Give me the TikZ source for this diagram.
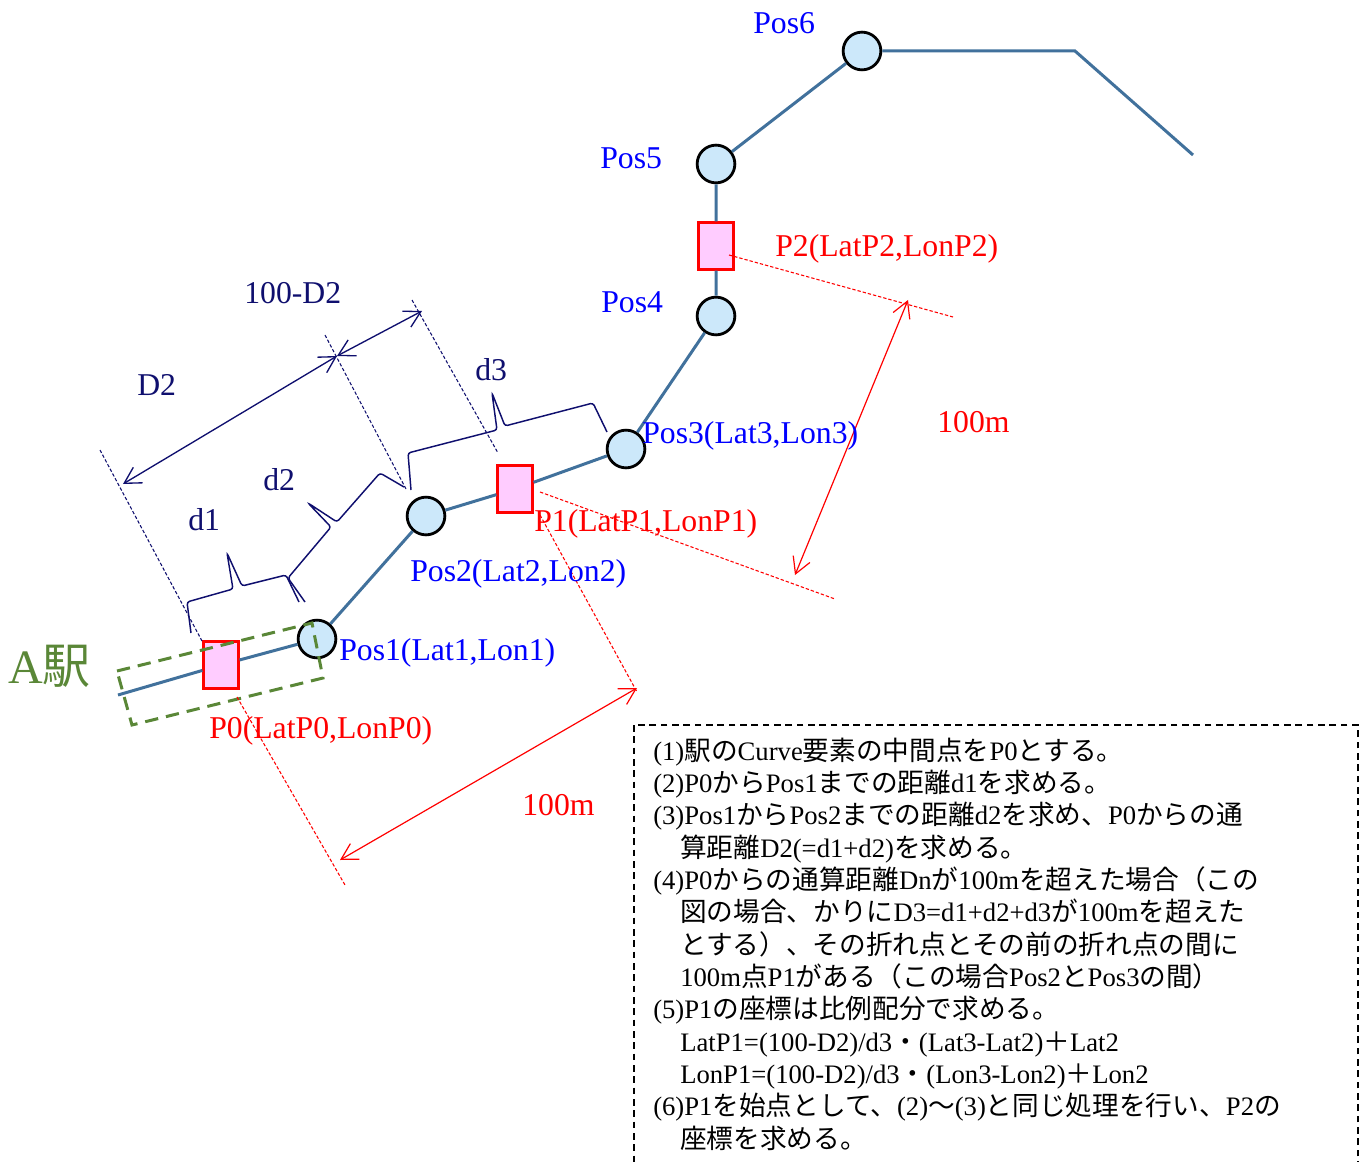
\documentclass[tikz,border=0pt]{standalone}
\usepackage{fontspec}
\setmainfont{Liberation Serif}
\newfontfamily\cjk{Noto Sans CJK JP}
\usetikzlibrary{arrows.meta}
\newcommand\J[1]{{\cjk #1}}
\definecolor{trackc}{RGB}{65,113,156}
\definecolor{nodefill}{RGB}{204,232,250}
\definecolor{pinkfill}{RGB}{255,204,255}
\definecolor{navyc}{RGB}{15,15,110}
\definecolor{stgreen}{RGB}{90,135,55}
\tikzset{
  trackline/.style={draw=trackc, line width=2.25pt},
  posc/.style={circle, draw=black, line width=2.1pt, fill=nodefill, minimum size=28.3pt, inner sep=0pt},
  prect/.style={rectangle, draw=red, line width=1.9pt, fill=pinkfill, minimum width=26pt, minimum height=35pt, inner sep=0pt},
  lbl/.style={inner sep=0pt, anchor=base west, font=\fontsize{23.8}{28}\selectfont},
  bluelbl/.style={lbl, text=blue},
  redlbl/.style={lbl, text=red},
  navylbl/.style={lbl, text=navyc},
  extline/.style={draw=navyc, line width=0.8pt, dash pattern=on 2.5pt off 1.5pt},
  dimarrow/.style={draw=navyc, line width=1pt, {Straight Barb[length=12pt,width=13.5pt]}-{Straight Barb[length=12pt,width=13.5pt]}},
  bracestyle/.style={draw=navyc, line width=1.1pt, rounded corners=2pt},
  redext/.style={draw=red, line width=0.8pt, dash pattern=on 2.5pt off 1.5pt},
  redarrow/.style={draw=red, line width=0.9pt, {Straight Barb[length=12pt,width=13.5pt]}-{Straight Barb[length=12pt,width=13.5pt]}},
  stationbox/.style={draw=stgreen, line width=2.25pt, dash pattern=on 10pt off 6pt},
  textline/.style={inner sep=0pt, anchor=base west, font=\fontsize{20}{24}\selectfont},
  notebox/.style={draw=black, line width=1.3pt, dash pattern=on 5pt off 3.5pt}
}
\begin{document}
\begin{tikzpicture}[x=0.75pt,y=-0.75pt]
\useasboundingbox (0,0) rectangle (1369,1162);
\clip (0,0) rectangle (1369,1162);
% track nodes
\coordinate (tstart) at (118,695);
\node[prect] (p0) at (221,665) {};
\node[posc] (pos1) at (317,639) {};
\node[posc] (pos2) at (426,516) {};
\node[prect] (p1) at (515,489) {};
\node[posc] (pos3) at (626,449) {};
\node[posc] (pos4) at (716,316) {};
\node[prect] (p2) at (716,246) {};
\node[posc] (pos5) at (716,164) {};
\node[posc] (pos6) at (862,51) {};
\coordinate (tbend) at (1075,51);
\coordinate (tend) at (1193,155);
\draw[trackline] (tstart) -- (p0) -- (pos1) -- (pos2) -- (p1) -- (pos3) -- (pos4) -- (p2) -- (pos5) -- (pos6) -- (tbend) -- (tend);
% station box
\draw[stationbox] (117,671) -- (312,623) -- (323,678) -- (132,725) -- cycle;
\node[lbl, text=stgreen, font=\fontsize{36}{40}\selectfont] (sta) at (8,683) {A\J{駅}};
% navy extension lines
\coordinate (e1a) at (100,450); \coordinate (e1b) at (202,641);
\coordinate (e2a) at (325,335); \coordinate (e2b) at (406,489);
\coordinate (e3a) at (412,300); \coordinate (e3b) at (498,453);
\draw[extline] (e1a) -- (e1b);
\draw[extline] (e2a) -- (e2b);
\draw[extline] (e3a) -- (e3b);
% dimension arrows
\coordinate (dA) at (123,484); \coordinate (dB) at (337,356); \coordinate (dC) at (422,311);
\draw[dimarrow] (dA) -- (dB);
\draw[dimarrow] (dB) -- (dC);
% braces
\draw[bracestyle] (191,633) -- (187,602) -- (233,589) -- (227,553) -- (242,586) -- (286,575) -- (299,602);
\draw[bracestyle] (305,602) -- (288,578) -- (331,527) -- (308,503) -- (337,522) -- (380,473) -- (404,487);
\draw[bracestyle] (411,490) -- (408,453) -- (497,430) -- (492,393) -- (505,426) -- (593,403) -- (607,432);
% red extension lines and arrows
\coordinate (r0a) at (237,697); \coordinate (r0b) at (345,885);
\coordinate (r1a) at (540,515); \coordinate (r1b) at (637,692);
\coordinate (r2a) at (540,492); \coordinate (r2b) at (835,599);
\coordinate (r3a) at (729,255); \coordinate (r3b) at (953,317);
\draw[redext] (r0a) -- (r0b);
\draw[redext] (r1a) -- (r1b);
\draw[redext] (r2a) -- (r2b);
\draw[redext] (r3a) -- (r3b);
\coordinate (ra1) at (340,860); \coordinate (ra2) at (637,688);
\coordinate (rb1) at (795,575); \coordinate (rb2) at (908,300);
\draw[redarrow] (ra1) -- (ra2);
\draw[redarrow] (rb1) -- (rb2);
% labels
\node[bluelbl] (l6) at (753,34) {Pos6};
\node[bluelbl] (l5) at (600,169) {Pos5};
\node[bluelbl] (l4) at (601,313) {Pos4};
\node[bluelbl] (l3) at (642,443) {Pos3(Lat3,Lon3)};
\node[bluelbl] (l2) at (410,581) {Pos2(Lat2,Lon2)};
\node[bluelbl] (l1) at (339,660) {Pos1(Lat1,Lon1)};
\node[redlbl] (lp0) at (209,738) {P0(LatP0,LonP0)};
\node[redlbl] (lp1) at (534,531) {P1(LatP1,LonP1)};
\node[redlbl] (lp2) at (775,257) {P2(LatP2,LonP2)};
\node[redlbl] (lm1) at (937,432) {100m};
\node[redlbl] (lm2) at (522,815) {100m};
\node[navylbl] (ld) at (244,304) {100-D2};
\node[navylbl] (lD2) at (137,395) {D2};
\node[navylbl] (ld3) at (475,380) {d3};
\node[navylbl] (ld2) at (263,490) {d2};
\node[navylbl] (ld1) at (188,530) {d1};
% note box
\draw[notebox] (634,725) rectangle (1358,1185);
\node[textline] (n1) at (653,760) {(1)\J{駅の}Curve\J{要素の中間点を}P0\J{とする。}};
\node[textline] (n2) at (653,792.35) {(2)P0\J{から}Pos1\J{までの距離}d1\J{を求める。}};
\node[textline] (n3) at (653,824.7) {(3)Pos1\J{から}Pos2\J{までの距離}d2\J{を求め、}P0\J{からの通}};
\node[textline] (n4) at (680,857.05) {\J{算距離}D2(=d1+d2)\J{を求める。}};
\node[textline] (n5) at (653,889.4) {(4)P0\J{からの通算距離}Dn\J{が}100m\J{を超えた場合（この}};
\node[textline] (n6) at (680,921.75) {\J{図の場合、かりに}D3=d1+d2+d3\J{が}100m\J{を超えた}};
\node[textline] (n7) at (680,954.1) {\J{とする）、その折れ点とその前の折れ点の間に}};
\node[textline] (n8) at (680,986.45) {100m\J{点}P1\J{がある（この場合}Pos2\J{と}Pos3\J{の間）}};
\node[textline] (n9) at (653,1018.8) {(5)P1\J{の座標は比例配分で求める。}};
\node[textline] (n10) at (680,1051.15) {LatP1=(100-D2)/d3\J{・}(Lat3-Lat2)\J{＋}Lat2};
\node[textline] (n11) at (680,1083.5) {LonP1=(100-D2)/d3\J{・}(Lon3-Lon2)\J{＋}Lon2};
\node[textline] (n12) at (653,1115.85) {(6)P1\J{を始点として、}(2)\J{～}(3)\J{と同じ処理を行い、}P2\J{の}};
\node[textline] (n13) at (680,1148.2) {\J{座標を求める。}};
\end{tikzpicture}
\end{document}
